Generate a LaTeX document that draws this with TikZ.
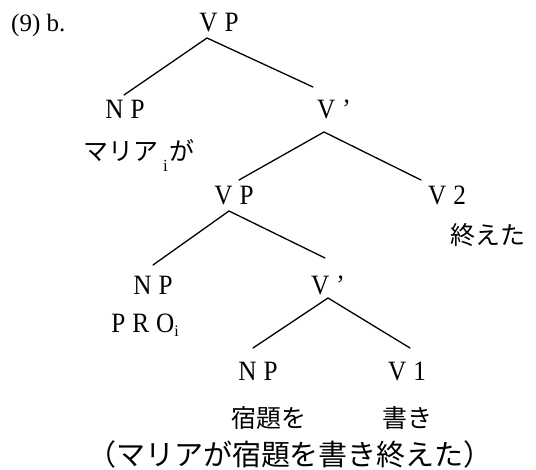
\documentclass[tikz,border=0pt]{standalone}
\usepackage{fontspec}
\setmainfont{Liberation Serif}
\newfontfamily\latn{Liberation Serif}[FakeStretch=0.9]
\newfontfamily\jp{Noto Sans CJK JP}
\tikzset{
  lat/.style={font=\latn\fontsize{28}{30}\selectfont, inner sep=0pt, anchor=base},
  jpn/.style={font=\jp\fontsize{25}{28}\selectfont, inner sep=0pt, anchor=base},
  branch/.style={line width=1.3pt, line cap=round}
}
\newcommand{\gp}{\hspace{7pt}}
\newcommand{\subi}{\raisebox{-4pt}{\fontsize{16}{16}\selectfont\rmfamily i}}
\begin{document}
\begin{tikzpicture}[x=1pt,y=-1pt]
\useasboundingbox (0,0) rectangle (536,470);
% labels
\node[lat, anchor=base west, font=\fontsize{25}{30}\selectfont] (lab) at (11,32) {(9) b.};
\node[lat] (vp1) at (219,32) {V\gp P};
\node[lat] (np1) at (125,119) {N\gp P};
\node[jpn] (m) at (139,161) {マリア\hspace{5pt}\raisebox{-11pt}{\fontsize{17}{17}\selectfont\rmfamily i}\hspace{2pt}が};
\node[lat] (vb1) at (334,119) {V\gp ’};
\node[lat] (vp2) at (234,205) {V\gp P};
\node[lat] (v2) at (447,205) {V\gp 2};
\node[jpn] (owa) at (488,245) {終えた};
\node[lat] (np2) at (153,295) {N\gp P};
\node[lat] (vb2) at (328,295) {V\gp ’};
\node[lat] (pro) at (145,333) {P\gp R\gp O\subi};
\node[lat] (np3) at (258,381) {N\gp P};
\node[lat] (v1) at (407,381) {V\gp 1};
\node[jpn] (shu) at (269,428) {宿題を};
\node[jpn] (kaki) at (407,428) {書き};
\node[jpn, font=\jp\fontsize{29}{32}\selectfont] (full) at (290,465) {（マリアが宿題を書き終えた）};
% branch points
\coordinate (vp1-d) at (207,38);
\coordinate (np1-u) at (124,95);
\coordinate (vb1-u) at (313,87);
\coordinate (vb1-d) at (324,132);
\coordinate (vp2-u) at (239,180);
\coordinate (v2-u) at (421,180);
\coordinate (vp2-d) at (229,211);
\coordinate (np2-u) at (153,265);
\coordinate (vb2-u) at (325,258);
\coordinate (vb2-d) at (328,298);
\coordinate (np3-u) at (253,348);
\coordinate (v1-u) at (410,348);
\draw[branch] (np1-u) -- (vp1-d) -- (vb1-u);
\draw[branch] (vp2-u) -- (vb1-d) -- (v2-u);
\draw[branch] (np2-u) -- (vp2-d) -- (vb2-u);
\draw[branch] (np3-u) -- (vb2-d) -- (v1-u);
\end{tikzpicture}
\end{document}
